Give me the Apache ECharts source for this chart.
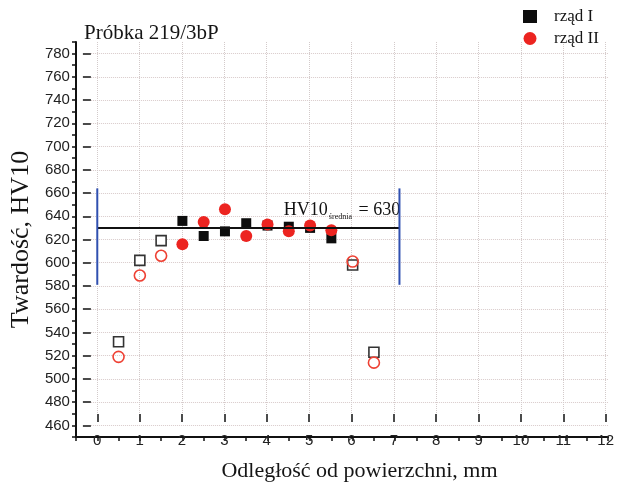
<!DOCTYPE html>
<html>
<head>
<meta charset="utf-8">
<script src="https://cdn.jsdelivr.net/npm/echarts@6/dist/echarts.min.js"></script>
<style>html,body{margin:0;padding:0;background:#fff}#c{width:617px;height:494px}</style>
</head>
<body>
<div id="c"></div>
<script>
// ---- data ----
const titleText = 'Próbka 219/3bP';
const seriesNames = ['rząd I', 'rząd II'];
const xFilled = [2.0, 2.5, 3.0, 3.5, 4.0, 4.5, 5.0, 5.5];
const row1Filled = [636, 623, 627, 634, 632, 631, 630, 621];
const row2Filled = [616, 635, 646, 623, 633, 627, 632, 628];
const xOpen = [0.5, 1.0, 1.5, 6.0, 6.5];
const row1Open = [532, 602, 619, 598, 523];
const row2Open = [519, 589, 606, 601, 514];
const meanValue = 630;
const meanRange = [0, 7.1];
const bandRange = [581, 664];
const annotationPos = [5.75, 645];
const xMin = -0.5, xMax = 12, xMajorMin = 0, xMajorMax = 12;
const yMin = 450, yMax = 790, yMajorMin = 460, yMajorMax = 780;

// ---- layout ----
const G = { left: 76, right: 9, top: 42, bottom: 57 };
const W = 617 - G.left - G.right, H = 494 - G.top - G.bottom;
const pxX = W / (xMax - xMin), pxY = H / (yMax - yMin);
const serif = 'Liberation Serif';
const sans = 'Liberation Sans';

const pts = (xs, ys) => xs.map((x, i) => [x, ys[i]]);

const chart = echarts.init(document.getElementById('c'));
chart.setOption({
  backgroundColor: '#fff',
  animation: false,
  title: { text: titleText, left: 79, top: 18,
    textStyle: { fontFamily: serif, fontSize: 21, fontWeight: 'normal', color: '#151515' } },
  legend: {
    data: seriesNames, orient: 'vertical', left: 518, top: 3, itemGap: 5,
    itemWidth: 14, itemHeight: 13,
    textStyle: { fontFamily: serif, fontSize: 17, color: '#151515', padding: [0, 0, 0, 12] }
  },
  grid: [
    { left: G.left, right: G.right, top: G.top, bottom: G.bottom },
    { left: G.left + (xMajorMin - xMin) * pxX, right: G.right, top: G.top, bottom: G.bottom },
    { left: G.left, right: G.right, top: G.top + (yMax - yMajorMax) * pxY, bottom: G.bottom + (yMajorMin - yMin) * pxY }
  ],
  xAxis: [
    { gridIndex: 0, type: 'value', min: xMin, max: xMax, interval: 0.5,
      axisLine: { onZero: false, lineStyle: { color: '#111', width: 2 } },
      axisTick: { inside: false, length: 4, lineStyle: { color: '#111', width: 1.5 } },
      axisLabel: { show: false }, splitLine: { show: false } },
    { gridIndex: 1, type: 'value', min: xMajorMin, max: xMajorMax, interval: 1,
      axisLine: { show: false, onZero: false },
      axisTick: { show: true, inside: false, length: 8, lineStyle: { color: '#111', width: 1.5 } },
      axisLabel: { show: true, margin: 10,
        formatter: v => '{p|' + v + '}',
        rich: { p: { fontFamily: sans, fontSize: 15, color: '#222', lineHeight: 33 } } },
      splitLine: { show: true, lineStyle: { color: '#d3caca', type: 'dotted', width: 1 } },
      name: 'Odległość od powierzchni, mm', nameLocation: 'middle', nameGap: 38,
      nameTextStyle: { fontFamily: serif, fontSize: 22, color: '#151515', lineHeight: 36, padding: [0, 0, 0, 16] } },
    { gridIndex: 2, type: 'value', min: xMin, max: xMax, show: false, axisLine: { onZero: false } }
  ],
  yAxis: [
    { gridIndex: 0, type: 'value', min: yMin, max: yMax, interval: 10,
      axisLine: { show: true, onZero: false, lineStyle: { color: '#111', width: 2 } },
      axisTick: { show: true, inside: false, length: 4, lineStyle: { color: '#111', width: 1.5 } },
      axisLabel: { show: false }, splitLine: { show: false } },
    { gridIndex: 1, type: 'value', min: yMin, max: yMax, show: false, axisLine: { onZero: false } },
    { gridIndex: 2, type: 'value', min: yMajorMin, max: yMajorMax, interval: 20,
      axisLine: { show: false, onZero: false },
      axisTick: { show: true, inside: false, length: 8, lineStyle: { color: '#111', width: 1.5 } },
      axisLabel: { show: true, margin: 13,
        formatter: v => '{p|' + v + '}',
        rich: { p: { fontFamily: sans, fontSize: 15, color: '#222', width: 33, align: 'left' } } },
      splitLine: { show: true, lineStyle: { color: '#d8caca', type: 'dotted', width: 1 } },
      name: 'Twardość, HV10', nameLocation: 'middle', nameGap: 45,
      nameTextStyle: { fontFamily: serif, fontSize: 26, color: '#151515' } }
  ],
  series: [
    { type: 'line', xAxisIndex: 0, yAxisIndex: 0, silent: true, symbol: 'none',
      data: [[meanRange[0], meanValue], [meanRange[1], meanValue]],
      lineStyle: { color: '#111', width: 2 } },
    { type: 'line', xAxisIndex: 0, yAxisIndex: 0, silent: true, symbol: 'none',
      data: [[meanRange[0], bandRange[0]], [meanRange[0], bandRange[1]]],
      lineStyle: { color: '#3050b0', width: 2 } },
    { type: 'line', xAxisIndex: 0, yAxisIndex: 0, silent: true, symbol: 'none',
      data: [[meanRange[1], bandRange[0]], [meanRange[1], bandRange[1]]],
      lineStyle: { color: '#3050b0', width: 2 } },
    { name: 'rząd I open', type: 'scatter', xAxisIndex: 0, yAxisIndex: 0,
      symbol: 'rect', symbolSize: 10, data: pts(xOpen, row1Open),
      itemStyle: { color: '#fff', borderColor: '#333', borderWidth: 1.6, opacity: 1 } },
    { name: seriesNames[0], type: 'scatter', xAxisIndex: 0, yAxisIndex: 0,
      symbol: 'rect', symbolSize: 10, data: pts(xFilled, row1Filled),
      itemStyle: { color: '#0d0d0d', opacity: 1 } },
    { name: 'rząd II open', type: 'scatter', xAxisIndex: 0, yAxisIndex: 0,
      symbol: 'circle', symbolSize: 11, data: pts(xOpen, row2Open),
      itemStyle: { color: 'rgba(255,255,255,0)', borderColor: '#ee4033', borderWidth: 1.6, opacity: 1 } },
    { name: seriesNames[1], type: 'scatter', xAxisIndex: 0, yAxisIndex: 0,
      symbol: 'circle', symbolSize: 12, data: pts(xFilled, row2Filled),
      itemStyle: { color: '#ec2420', opacity: 1 } },
    { type: 'scatter', xAxisIndex: 0, yAxisIndex: 0, silent: true, symbolSize: 0,
      data: [annotationPos],
      itemStyle: { opacity: 1 },
      label: { show: true, position: 'inside',
        formatter: '{a|HV10}{b|średnia}{a| = 630}',
        rich: {
          a: { fontFamily: serif, fontSize: 18, color: '#111', lineHeight: 20 },
          b: { fontFamily: serif, fontSize: 8, color: '#111', lineHeight: 6, verticalAlign: 'bottom', padding: [0, 2, 0, 1] }
        } } }
  ]
});
</script>
</body>
</html>
